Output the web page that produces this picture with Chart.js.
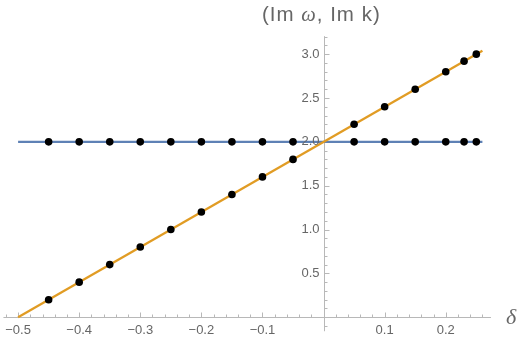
<!DOCTYPE html>
<html><head><meta charset="utf-8">
<script src="https://cdn.jsdelivr.net/npm/chart.js@4"></script>
<style>html,body{margin:0;padding:0;background:#fff}canvas{display:block}</style>
</head><body>
<canvas id="c" width="520" height="344"></canvas>
<script>
// ---- data ----
const delta = [-0.45,-0.4,-0.35,-0.3,-0.25,-0.2,-0.15,-0.1,-0.05,0.05,0.1,0.15,0.2,0.23,0.25];
const imOmegaPoints = [2,2,2,2,2,2,2,2,2,2,2,2,2,2,2];
const imKPoints = [0.2,0.4,0.6,0.8,1.0,1.2,1.4,1.6,1.8,2.2,2.4,2.6,2.8,2.92,3.0];
const lineDelta = [-0.5, 0.26];
const imOmegaLine = [2, 2];
const imKLine = [0, 3.04];
const xTicks = [-0.5,-0.4,-0.3,-0.2,-0.1,0.1,0.2];
const xTickLabels = ['\u22120.5','\u22120.4','\u22120.3','\u22120.2','\u22120.1','0.1','0.2'];
const yTicks = [0.5,1.0,1.5,2.0,2.5,3.0];
const yTickLabels = ['0.5','1.0','1.5','2.0','2.5','3.0'];
const xAxisSpan = [-0.524, 0.274];
const yAxisSpan = [-0.16, 3.205];
const xRange = [-0.52339, 0.31532];
const yRange = [-0.2621, 3.5742];

const toXY = (xs, ys) => xs.map((x, i) => ({x, y: ys[i]}));

const axesPlugin = {
  id: 'mmaAxes',
  beforeDatasetsDraw(chart) {
    const ctx = chart.ctx, xs = chart.scales.x, ys = chart.scales.y;
    const xa = Math.round(xs.getPixelForValue(0)) + 0.5;
    const ya = Math.round(ys.getPixelForValue(0)) + 0.5;
    ctx.save();
    ctx.strokeStyle = '#b8b8b8';
    ctx.lineWidth = 1;
    ctx.beginPath();
    ctx.moveTo(xs.getPixelForValue(xAxisSpan[0]), ya);
    ctx.lineTo(xs.getPixelForValue(xAxisSpan[1]), ya);
    ctx.moveTo(xa, ys.getPixelForValue(yAxisSpan[0]));
    ctx.lineTo(xa, ys.getPixelForValue(yAxisSpan[1]));
    for (let k = -26; k <= 13; k++) {
      if (k === 0) continue;
      const major = k % 5 === 0;
      const px = Math.round(xs.getPixelForValue(k * 0.02)) + 0.5;
      ctx.moveTo(px, ya);
      ctx.lineTo(px, ya - (major ? 5 : 3));
    }
    for (let k = -1; k <= 32; k++) {
      if (k === 0) continue;
      const major = k % 5 === 0;
      const py = Math.round(ys.getPixelForValue(k * 0.1)) + 0.5;
      ctx.moveTo(xa, py);
      ctx.lineTo(xa + (major ? 5 : 3), py);
    }
    ctx.stroke();
    ctx.restore();
  },
  afterDatasetsDraw(chart) {
    const ctx = chart.ctx, xs = chart.scales.x, ys = chart.scales.y;
    const xa = Math.round(xs.getPixelForValue(0)) + 0.5;
    const ya = Math.round(ys.getPixelForValue(0)) + 0.5;
    ctx.save();
    ctx.fillStyle = '#666666';
    ctx.font = '13px "Liberation Sans", Arial, sans-serif';
    ctx.textAlign = 'center';
    ctx.textBaseline = 'top';
    xTicks.forEach((v, i) => {
      ctx.fillText(xTickLabels[i], xs.getPixelForValue(v), ya + 6);
    });
    ctx.textAlign = 'right';
    ctx.textBaseline = 'middle';
    yTicks.forEach((v, i) => {
      ctx.fillText(yTickLabels[i], xa - 5, ys.getPixelForValue(v));
    });

    ctx.textBaseline = 'alphabetic';
    ctx.textAlign = 'left';
    if ('letterSpacing' in ctx) ctx.letterSpacing = '1px';
    const f1 = '20.5px "Liberation Sans", Arial, sans-serif';
    const f2 = 'italic 20.5px "Liberation Serif", "Times New Roman", serif';
    const parts = [['(Im ', f1], ['\u03C9', f2], [', Im k)', f1]];
    let cx = 262;
    parts.forEach(p => { ctx.font = p[1]; ctx.fillText(p[0], cx, 20.5); cx += ctx.measureText(p[0]).width; });
    if ('letterSpacing' in ctx) ctx.letterSpacing = '0px';
    ctx.font = 'italic 22px "Liberation Serif", "Times New Roman", serif';
    ctx.fillText('\u03B4', 506, ya + 6);
    ctx.restore();
  }
};

new Chart(document.getElementById('c'), {
  type: 'scatter',
  data: {
    datasets: [
      { label: 'Im k points', data: toXY(delta, imKPoints), pointRadius: 3.8, pointHoverRadius: 3.8,
        backgroundColor: '#000', borderWidth: 0, showLine: false, order: 0 },
      { label: 'Im ω points', data: toXY(delta, imOmegaPoints), pointRadius: 3.8, pointHoverRadius: 3.8,
        backgroundColor: '#000', borderWidth: 0, showLine: false, order: 1 },
      { label: 'Im k', data: toXY(lineDelta, imKLine), showLine: true, pointRadius: 0,
        borderColor: '#E19C24', borderWidth: 2.3, tension: 0, order: 2 },
      { label: 'Im ω', data: toXY(lineDelta, imOmegaLine), showLine: true, pointRadius: 0,
        borderColor: '#5E81B5', borderWidth: 2.3, tension: 0, order: 3 }
    ]
  },
  options: {
    responsive: false,
    animation: false,
    devicePixelRatio: 1,
    layout: { padding: 0 },
    plugins: { legend: { display: false }, tooltip: { enabled: false } },
    scales: {
      x: { type: 'linear', min: xRange[0], max: xRange[1], display: false },
      y: { type: 'linear', min: yRange[0], max: yRange[1], display: false }
    }
  },
  plugins: [axesPlugin]
});
</script>
</body></html>
